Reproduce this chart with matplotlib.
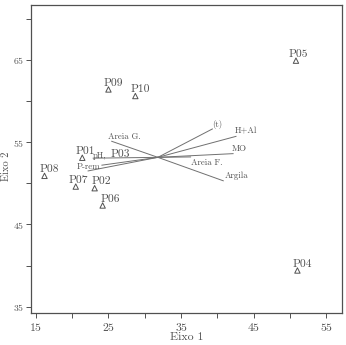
import matplotlib
matplotlib.use("Agg")
import matplotlib.pyplot as plt  # noqa: E402
from matplotlib.ticker import MultipleLocator  # noqa: E402

plt.rcParams["font.family"] = "serif"
plt.rcParams["font.serif"] = ["cmr10", "DejaVu Serif"]
plt.rcParams["axes.formatter.use_mathtext"] = True

GREY = "#505050"
LINE = "#707070"

# sites (ordination scores)
site_names = ["P01", "P02", "P04", "P05", "P06", "P07", "P08", "P09", "P10"]
site_x = [21.4, 23.1, 51.0, 50.8, 24.2, 20.5, 16.2, 25.0, 28.7]
site_y = [53.1, 49.4, 39.4, 64.9, 47.3, 49.6, 50.9, 61.4, 60.6]

# P03 sits under the vector origin, only its label is visible
p03_xy = (26.7, 53.0)

# environmental vectors
origin = (31.8, 53.15)
vec_names = ["(t)", "H+Al", "MO", "Areia F.", "Argila", "Areia G.", "pH,", "P-rem", ""]
vec_x = [39.3, 42.55, 42.15, 36.3, 40.8, 25.45, 22.9, 22.2, 24.1]
vec_y = [56.6, 55.7, 53.6, 53.2, 50.3, 55.1, 53.05, 51.5, 52.2]

# label anchor offsets from the vector tip (data units) + alignment
LABEL_POS = {
    "(t)": (0.6, 0.55, "center"),
    "H+Al": (-0.1, 0.6, "left"),
    "MO": (-0.2, 0.6, "left"),
    "Areia F.": (0.1, -0.7, "left"),
    "Argila": (0.2, 0.55, "left"),
    "Areia G.": (-0.45, 0.5, "left"),
    "pH,": (0.0, 0.3, "left"),
    "P-rem": (-1.6, 0.55, "left"),
}
# horizontal nudge of site labels (points)
SITE_DX = {"P02": 4.5, "P06": 5.5, "P07": 1.5, "P05": 2.0, "P01": 2.5}


def main():
    fig = plt.figure(figsize=(3.46, 3.45), dpi=100)
    ax = fig.add_axes([0.0887, 0.0919, 0.899, 0.8945])

    for vx, vy in zip(vec_x, vec_y):
        ax.plot([origin[0], vx], [origin[1], vy], color=LINE, lw=0.7)
    for name, vx, vy in zip(vec_names, vec_x, vec_y):
        if not name:
            continue
        dx, dy, ha = LABEL_POS[name]
        ax.text(vx + dx, vy + dy, name, fontsize=6.3, color=GREY, ha=ha, va="center")

    ax.scatter(site_x, site_y, marker="^", s=15, facecolors="none",
               edgecolors=GREY, linewidths=0.7, zorder=3)
    for name, x, y in zip(site_names, site_x, site_y):
        ax.annotate(name, (x, y), xytext=(SITE_DX.get(name, 3.3), 1.3),
                    textcoords="offset points", ha="center", va="bottom",
                    fontsize=8.3, color=GREY)
    ax.text(p03_xy[0], p03_xy[1], "P03", fontsize=8.3, color=GREY,
            ha="center", va="bottom")

    ax.set_xlim(14.3, 57.1)
    ax.set_ylim(34.2, 71.7)
    ax.xaxis.set_minor_locator(MultipleLocator(5))
    ax.yaxis.set_minor_locator(MultipleLocator(5))
    ax.set_xticks([15, 25, 35, 45, 55])
    ax.set_yticks([35, 45, 55, 65])
    ax.tick_params(which="both", direction="out", length=3.5, width=0.7, color=GREY,
                   labelcolor=GREY)
    ax.tick_params(axis="x", labelsize=8.5, pad=2)
    ax.tick_params(axis="y", labelsize=7, pad=1.5)
    for sp in ax.spines.values():
        sp.set_color(GREY)
        sp.set_linewidth(0.9)
    ax.set_xlabel("Eixo 1", fontsize=8.5, color=GREY, labelpad=0)
    ax.set_ylabel("Eixo 2", fontsize=7.5, color=GREY)
    ax.yaxis.set_label_coords(-0.063, 0.477)

    fig.savefig("out.png", dpi=100)
    plt.close(fig)


if __name__ == "__main__":
    main()
